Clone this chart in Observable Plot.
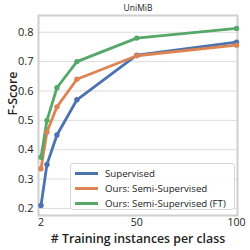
<!DOCTYPE html>
<html><head><meta charset="utf-8">
<script src="https://cdn.jsdelivr.net/npm/d3@7"></script>
<script src="https://cdn.jsdelivr.net/npm/@observablehq/plot@0.6"></script>
<style>
body{margin:0;background:#fff;font-family:"Open Sans",sans-serif;}
#wrap{position:relative;width:250px;height:250px;}
#legend{position:absolute;left:70px;top:163px;width:165px;height:47px;border:1px solid #d6d6d6;border-radius:3px;background:rgba(255,255,255,0.9);box-sizing:border-box;font-size:9.7px;color:#222;}
.row{position:absolute;left:4px;height:14px;display:flex;align-items:center;}
.sw{width:23px;height:3px;margin-right:7px;}
</style></head>
<body><div id="wrap"></div>
<script>
const xs = [2, 5, 10, 20, 50, 100];
const series = ["Supervised", "Ours: Semi-Supervised", "Ours: Semi-Supervised (FT)"];
const supervised = [0.21, 0.35, 0.45, 0.57, 0.722, 0.766];
const semi = [0.335, 0.46, 0.546, 0.64, 0.72, 0.756];
const semiFT = [0.374, 0.50, 0.611, 0.70, 0.78, 0.813];
const colors = ["#4C72B0", "#DD8452", "#55A868"];
const yTicks = [0.2, 0.3, 0.4, 0.5, 0.6, 0.7, 0.8];
const xTicks = [2, 50, 100];

const vals = [supervised, semi, semiFT];
const data = [];
series.forEach((s, i) => xs.forEach((x, j) => data.push({series: s, x, y: vals[i][j]})));

const font = "Open Sans, sans-serif";
const plot = Plot.plot({
  width: 250, height: 250,
  marginLeft: 38, marginRight: 13, marginTop: 15, marginBottom: 35,
  style: {fontFamily: font, background: "#fff"},
  x: {domain: [0.75, 100.5]},
  y: {domain: [0.176, 0.857]},
  color: {domain: series, range: colors},
  marks: [
    Plot.gridY(yTicks, {stroke: "#dcdcdc", strokeOpacity: 1, strokeWidth: 1}),
    Plot.frame({stroke: "#cfcfcf", strokeWidth: 2}),
    Plot.axisY(yTicks, {tickSize: 0, tickPadding: 5, label: null, fontSize: 11, tickFormat: d3.format(".1f"), fill: "#222"}),
    Plot.axisX(xTicks, {tickSize: 0, tickPadding: 3, label: null, fontSize: 10.5, fill: "#222"}),
    Plot.line(data, {x: "x", y: "y", stroke: "series", z: "series", strokeWidth: 2.8}),
    Plot.dot(data, {x: "x", y: "y", fill: "series", r: 2.7}),
    Plot.text(["UniMiB"], {frameAnchor: "top", dy: -7, lineAnchor: "middle", fontSize: 8.5, fill: "#222"}),
    Plot.text(["F-Score"], {frameAnchor: "left", dx: -26, rotate: -90, lineAnchor: "middle", fontSize: 12.5, fontWeight: 600, fill: "#222"}),
    Plot.text(["# Training instances per class"], {frameAnchor: "bottom", dy: 23.5, lineAnchor: "middle", fontSize: 12.3, fontWeight: 600, fill: "#222"})
  ]
});
const wrap = document.getElementById("wrap");
wrap.appendChild(plot);
const leg = document.createElement("div");
leg.id = "legend";
series.forEach((s, i) => {
  const r = document.createElement("div");
  r.className = "row";
  r.style.top = (2 + i * 15) + "px";
  r.innerHTML = `<div class="sw" style="background:${colors[i]}"></div><span>${s}</span>`;
  leg.appendChild(r);
});
wrap.appendChild(leg);
</script></body></html>
